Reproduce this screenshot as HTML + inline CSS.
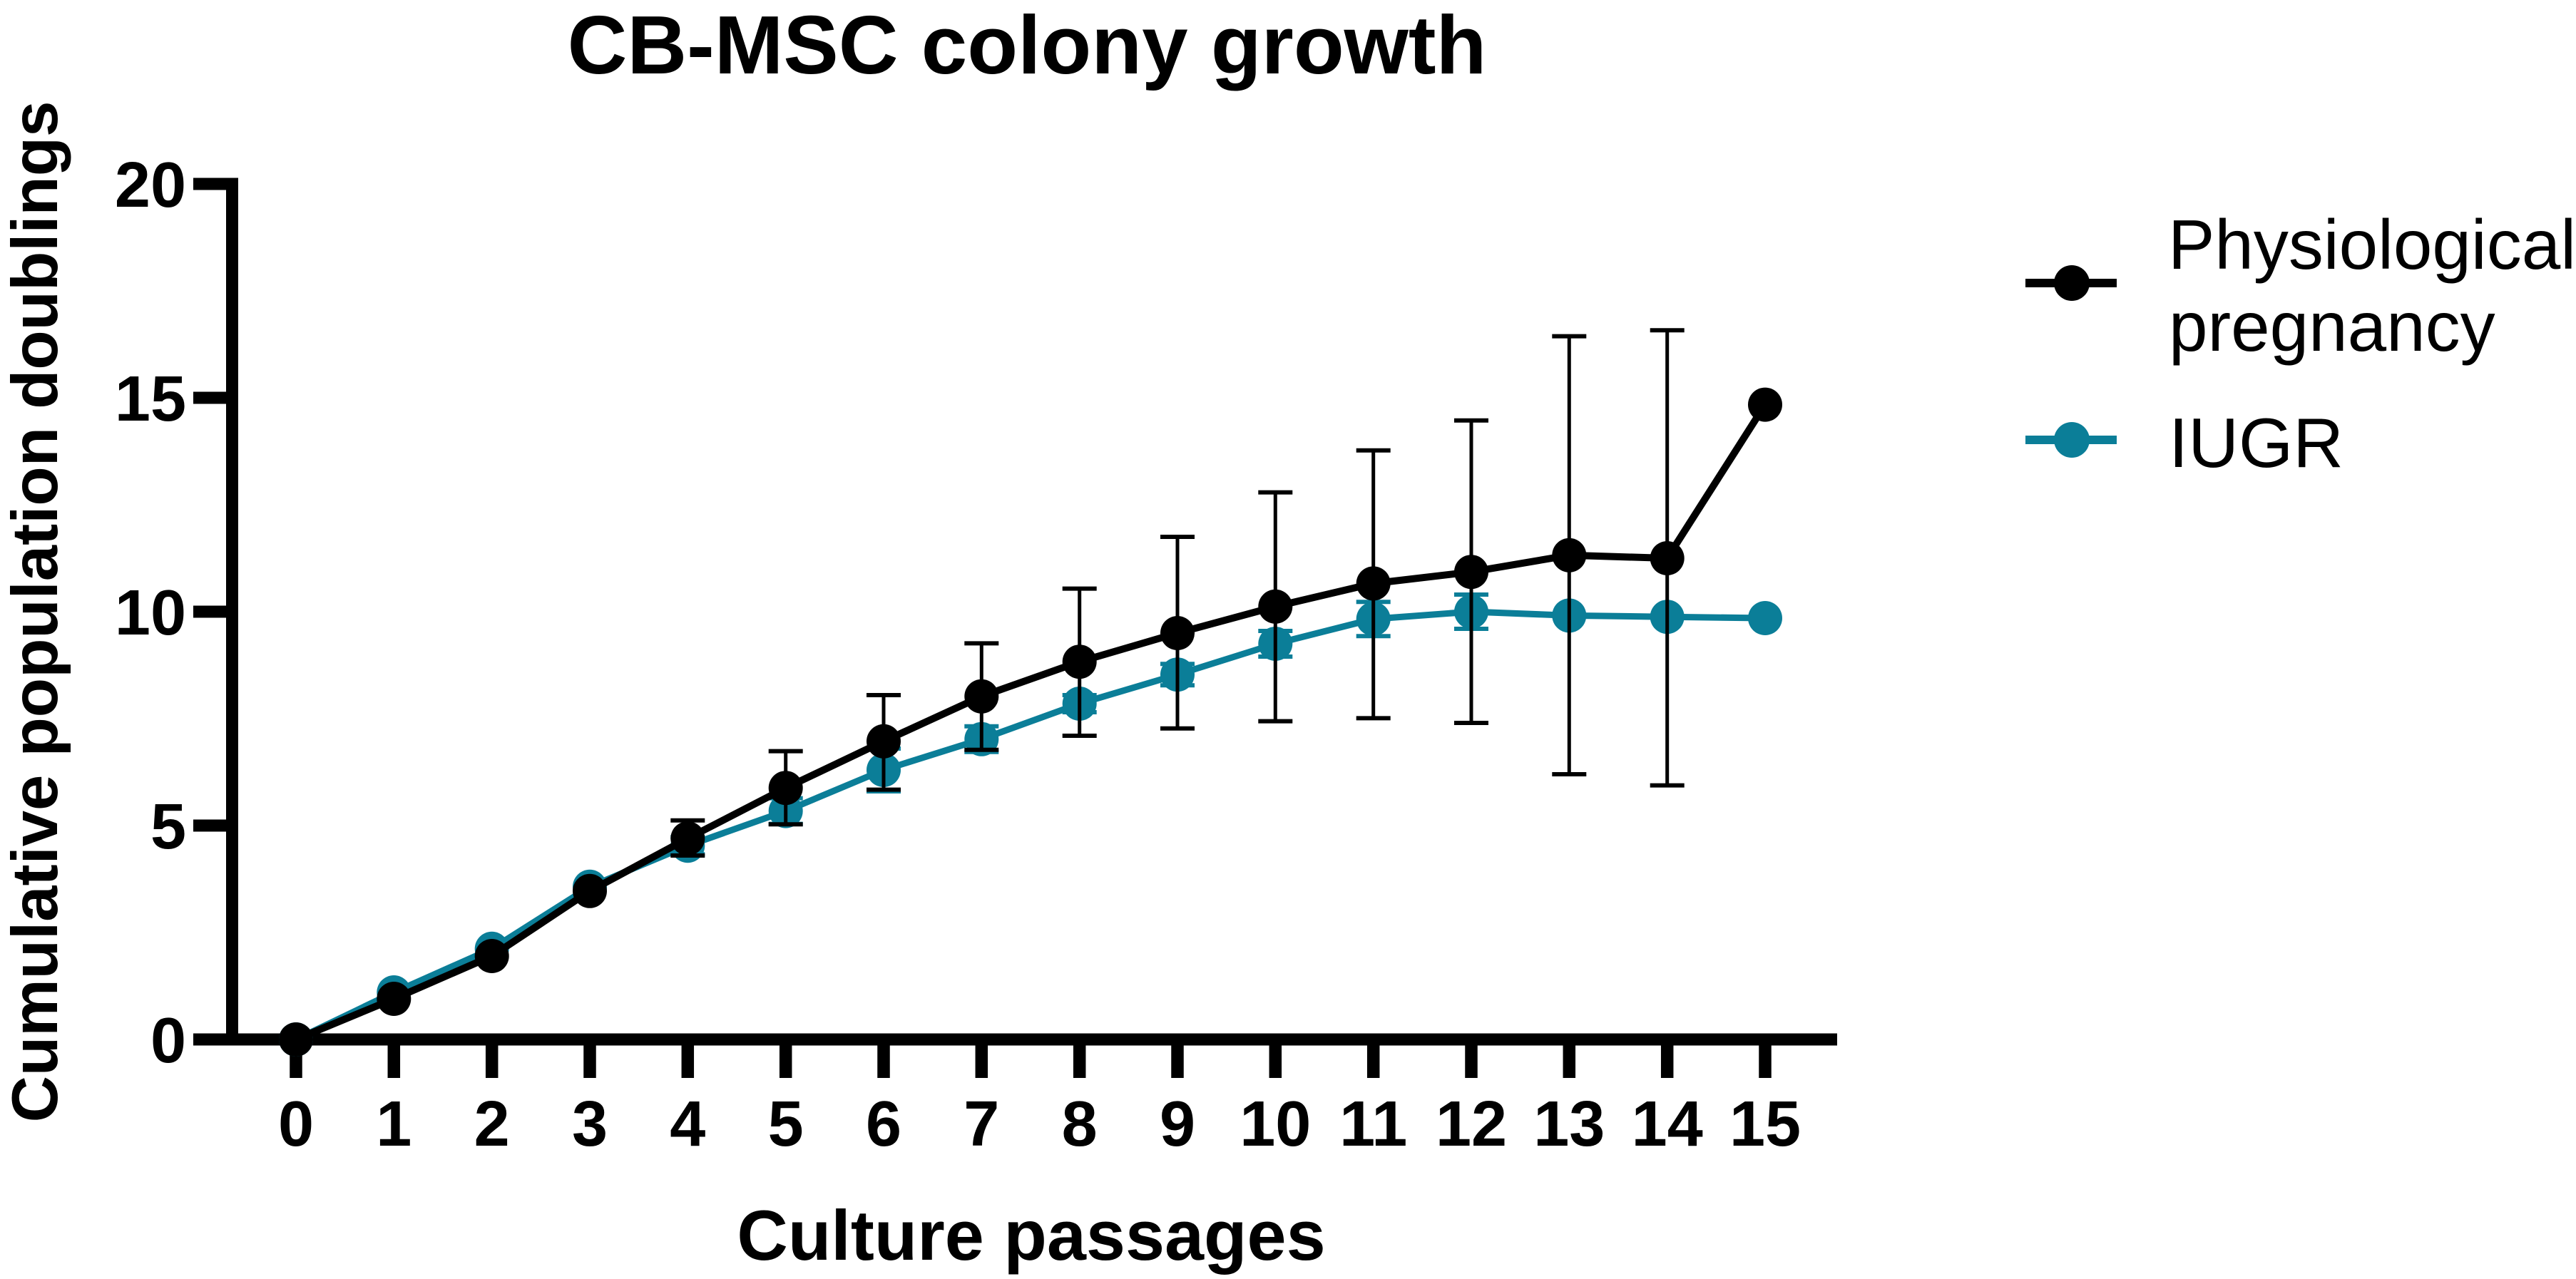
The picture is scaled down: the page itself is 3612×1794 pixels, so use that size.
<!DOCTYPE html>
<html>
<head>
<meta charset="utf-8">
<style>
html,body{margin:0;padding:0;background:#fff;}
svg{display:block;}
text{font-family:"Liberation Sans",Arial,sans-serif;fill:#000;}
.b{font-weight:bold;}
</style>
</head>
<body>
<svg width="3612" height="1794" viewBox="0 0 3612 1794" xmlns="http://www.w3.org/2000/svg">
<rect x="0" y="0" width="3612" height="1794" fill="#fff"/>

<!-- Title -->
<text class="b" x="1440" y="103" font-size="116" text-anchor="middle">CB-MSC colony growth</text>

<!-- Axes -->
<rect x="317" y="249.5" width="17" height="1217" fill="#000"/>
<rect x="271" y="1449.5" width="2305" height="17" fill="#000"/>
<!-- Y ticks -->
<g fill="#000">
<rect x="271" y="249.5" width="62" height="17"/>
<rect x="271" y="549.5" width="62" height="17"/>
<rect x="271" y="849.5" width="62" height="17"/>
<rect x="271" y="1149.5" width="62" height="17"/>
<rect x="271" y="1449.5" width="62" height="17"/>
</g>
<!-- Y tick labels -->
<g class="b" font-size="90" text-anchor="end">
<text class="b" x="261" y="290">20</text>
<text class="b" x="261" y="590">15</text>
<text class="b" x="261" y="890">10</text>
<text class="b" x="261" y="1190">5</text>
<text class="b" x="261" y="1490">0</text>
</g>
<!-- X ticks -->
<g stroke="#000" stroke-width="17.5">
<line x1="415" y1="1458" x2="415" y2="1512"/>
<line x1="552.3" y1="1458" x2="552.3" y2="1512"/>
<line x1="689.7" y1="1458" x2="689.7" y2="1512"/>
<line x1="827" y1="1458" x2="827" y2="1512"/>
<line x1="964.3" y1="1458" x2="964.3" y2="1512"/>
<line x1="1101.7" y1="1458" x2="1101.7" y2="1512"/>
<line x1="1239" y1="1458" x2="1239" y2="1512"/>
<line x1="1376.3" y1="1458" x2="1376.3" y2="1512"/>
<line x1="1513.7" y1="1458" x2="1513.7" y2="1512"/>
<line x1="1651" y1="1458" x2="1651" y2="1512"/>
<line x1="1788.3" y1="1458" x2="1788.3" y2="1512"/>
<line x1="1925.7" y1="1458" x2="1925.7" y2="1512"/>
<line x1="2063" y1="1458" x2="2063" y2="1512"/>
<line x1="2200.3" y1="1458" x2="2200.3" y2="1512"/>
<line x1="2337.7" y1="1458" x2="2337.7" y2="1512"/>
<line x1="2475" y1="1458" x2="2475" y2="1512"/>
</g>
<!-- X tick labels -->
<g font-size="90" text-anchor="middle">
<text class="b" x="415" y="1607">0</text>
<text class="b" x="552.3" y="1607">1</text>
<text class="b" x="689.7" y="1607">2</text>
<text class="b" x="827" y="1607">3</text>
<text class="b" x="964.3" y="1607">4</text>
<text class="b" x="1101.7" y="1607">5</text>
<text class="b" x="1239" y="1607">6</text>
<text class="b" x="1376.3" y="1607">7</text>
<text class="b" x="1513.7" y="1607">8</text>
<text class="b" x="1651" y="1607">9</text>
<text class="b" x="1788.3" y="1607">10</text>
<text class="b" x="1925.7" y="1607">11</text>
<text class="b" x="2063" y="1607">12</text>
<text class="b" x="2200.3" y="1607">13</text>
<text class="b" x="2337.7" y="1607">14</text>
<text class="b" x="2475" y="1607">15</text>
</g>

<!-- Axis titles -->
<text class="b" x="1446" y="1767" font-size="99" text-anchor="middle">Culture passages</text>
<text class="b" x="0" y="0" font-size="90.5" text-anchor="middle" transform="translate(80,858) rotate(-90)">Cumulative population doublings</text>

<!-- IUGR series (teal) -->
<g stroke="#0B7E98" fill="none">
<polyline stroke-width="9" stroke-linejoin="round" points="415,1458 552.3,1392 689.7,1330.8 827,1243.8 964.3,1186.2 1101.7,1137.6 1239,1080 1376.3,1036.8 1513.7,987 1651,946.2 1788.3,903 1925.7,868.2 2063,858 2200.3,863.4 2337.7,865.2 2475,867"/>
<g stroke-width="5">
<line x1="964.3" y1="1174.2" x2="964.3" y2="1198.2"/>
<line x1="1101.7" y1="1119.6" x2="1101.7" y2="1155.6"/>
<line x1="1239" y1="1050" x2="1239" y2="1110"/>
<line x1="1376.3" y1="1018.8" x2="1376.3" y2="1054.8"/>
<line x1="1513.7" y1="975" x2="1513.7" y2="999"/>
<line x1="1651" y1="931.2" x2="1651" y2="961.2"/>
<line x1="1788.3" y1="885" x2="1788.3" y2="921"/>
<line x1="1925.7" y1="844.2" x2="1925.7" y2="892.2"/>
<line x1="2063" y1="834" x2="2063" y2="882"/>
</g>
<g stroke-width="6">
<line x1="940.3" y1="1174.2" x2="988.3" y2="1174.2"/><line x1="940.3" y1="1198.2" x2="988.3" y2="1198.2"/>
<line x1="1077.7" y1="1119.6" x2="1125.7" y2="1119.6"/><line x1="1077.7" y1="1155.6" x2="1125.7" y2="1155.6"/>
<line x1="1215" y1="1050" x2="1263" y2="1050"/><line x1="1215" y1="1110" x2="1263" y2="1110"/>
<line x1="1352.3" y1="1018.8" x2="1400.3" y2="1018.8"/><line x1="1352.3" y1="1054.8" x2="1400.3" y2="1054.8"/>
<line x1="1489.7" y1="975" x2="1537.7" y2="975"/><line x1="1489.7" y1="999" x2="1537.7" y2="999"/>
<line x1="1627" y1="931.2" x2="1675" y2="931.2"/><line x1="1627" y1="961.2" x2="1675" y2="961.2"/>
<line x1="1764.3" y1="885" x2="1812.3" y2="885"/><line x1="1764.3" y1="921" x2="1812.3" y2="921"/>
<line x1="1901.7" y1="844.2" x2="1949.7" y2="844.2"/><line x1="1901.7" y1="892.2" x2="1949.7" y2="892.2"/>
<line x1="2039" y1="834" x2="2087" y2="834"/><line x1="2039" y1="882" x2="2087" y2="882"/>
</g>
</g>
<g fill="#0B7E98">
<circle cx="415" cy="1458" r="24"/>
<circle cx="552.3" cy="1392" r="24"/>
<circle cx="689.7" cy="1330.8" r="24"/>
<circle cx="827" cy="1243.8" r="24"/>
<circle cx="964.3" cy="1186.2" r="24"/>
<circle cx="1101.7" cy="1137.6" r="24"/>
<circle cx="1239" cy="1080" r="24"/>
<circle cx="1376.3" cy="1036.8" r="24"/>
<circle cx="1513.7" cy="987" r="24"/>
<circle cx="1651" cy="946.2" r="24"/>
<circle cx="1788.3" cy="903" r="24"/>
<circle cx="1925.7" cy="868.2" r="24"/>
<circle cx="2063" cy="858" r="24"/>
<circle cx="2200.3" cy="863.4" r="24"/>
<circle cx="2337.7" cy="865.2" r="24"/>
<circle cx="2475" cy="867" r="24"/>
</g>

<!-- Physiological pregnancy series (black) -->
<g stroke="#000" fill="none">
<polyline stroke-width="10" stroke-linejoin="round" points="415,1458 552.3,1401 689.7,1341 827,1249.8 964.3,1176 1101.7,1105.2 1239,1039.8 1376.3,976.8 1513.7,928.2 1651,888 1788.3,850.8 1925.7,818.4 2063,802.2 2200.3,778.8 2337.7,783 2475,567.6"/>
<g stroke-width="5">
<line x1="964.3" y1="1150.8" x2="964.3" y2="1200"/>
<line x1="1101.7" y1="1053.6" x2="1101.7" y2="1156.2"/>
<line x1="1239" y1="975" x2="1239" y2="1107.6"/>
<line x1="1376.3" y1="902.4" x2="1376.3" y2="1051.8"/>
<line x1="1513.7" y1="825.6" x2="1513.7" y2="1032"/>
<line x1="1651" y1="753" x2="1651" y2="1021.8"/>
<line x1="1788.3" y1="690.6" x2="1788.3" y2="1011.6"/>
<line x1="1925.7" y1="631.8" x2="1925.7" y2="1007.4"/>
<line x1="2063" y1="589.8" x2="2063" y2="1014"/>
<line x1="2200.3" y1="471.6" x2="2200.3" y2="1086"/>
<line x1="2337.7" y1="463.2" x2="2337.7" y2="1101.6"/>
</g>
<g stroke-width="6">
<line x1="940.3" y1="1150.8" x2="988.3" y2="1150.8"/><line x1="940.3" y1="1200" x2="988.3" y2="1200"/>
<line x1="1077.7" y1="1053.6" x2="1125.7" y2="1053.6"/><line x1="1077.7" y1="1156.2" x2="1125.7" y2="1156.2"/>
<line x1="1215" y1="975" x2="1263" y2="975"/><line x1="1215" y1="1107.6" x2="1263" y2="1107.6"/>
<line x1="1352.3" y1="902.4" x2="1400.3" y2="902.4"/><line x1="1352.3" y1="1051.8" x2="1400.3" y2="1051.8"/>
<line x1="1489.7" y1="825.6" x2="1537.7" y2="825.6"/><line x1="1489.7" y1="1032" x2="1537.7" y2="1032"/>
<line x1="1627" y1="753" x2="1675" y2="753"/><line x1="1627" y1="1021.8" x2="1675" y2="1021.8"/>
<line x1="1764.3" y1="690.6" x2="1812.3" y2="690.6"/><line x1="1764.3" y1="1011.6" x2="1812.3" y2="1011.6"/>
<line x1="1901.7" y1="631.8" x2="1949.7" y2="631.8"/><line x1="1901.7" y1="1007.4" x2="1949.7" y2="1007.4"/>
<line x1="2039" y1="589.8" x2="2087" y2="589.8"/><line x1="2039" y1="1014" x2="2087" y2="1014"/>
<line x1="2176.3" y1="471.6" x2="2224.3" y2="471.6"/><line x1="2176.3" y1="1086" x2="2224.3" y2="1086"/>
<line x1="2313.7" y1="463.2" x2="2361.7" y2="463.2"/><line x1="2313.7" y1="1101.6" x2="2361.7" y2="1101.6"/>
</g>
</g>
<g fill="#000">
<circle cx="415" cy="1458" r="24"/>
<circle cx="552.3" cy="1401" r="24"/>
<circle cx="689.7" cy="1341" r="24"/>
<circle cx="827" cy="1249.8" r="24"/>
<circle cx="964.3" cy="1176" r="24"/>
<circle cx="1101.7" cy="1105.2" r="24"/>
<circle cx="1239" cy="1039.8" r="24"/>
<circle cx="1376.3" cy="976.8" r="24"/>
<circle cx="1513.7" cy="928.2" r="24"/>
<circle cx="1651" cy="888" r="24"/>
<circle cx="1788.3" cy="850.8" r="24"/>
<circle cx="1925.7" cy="818.4" r="24"/>
<circle cx="2063" cy="802.2" r="24"/>
<circle cx="2200.3" cy="778.8" r="24"/>
<circle cx="2337.7" cy="783" r="24"/>
<circle cx="2475" cy="567.6" r="24"/>
</g>

<!-- Legend -->
<line x1="2840" y1="397" x2="2968" y2="397" stroke="#000" stroke-width="12"/>
<circle cx="2905" cy="397" r="25" fill="#000"/>
<text x="3040" y="377" font-size="98">Physiological</text>
<text x="3041" y="492" font-size="98">pregnancy</text>
<line x1="2840" y1="617" x2="2968" y2="617" stroke="#0B7E98" stroke-width="12"/>
<circle cx="2905" cy="617" r="25" fill="#0B7E98"/>
<text x="3041" y="655" font-size="98">IUGR</text>
</svg>
</body>
</html>
